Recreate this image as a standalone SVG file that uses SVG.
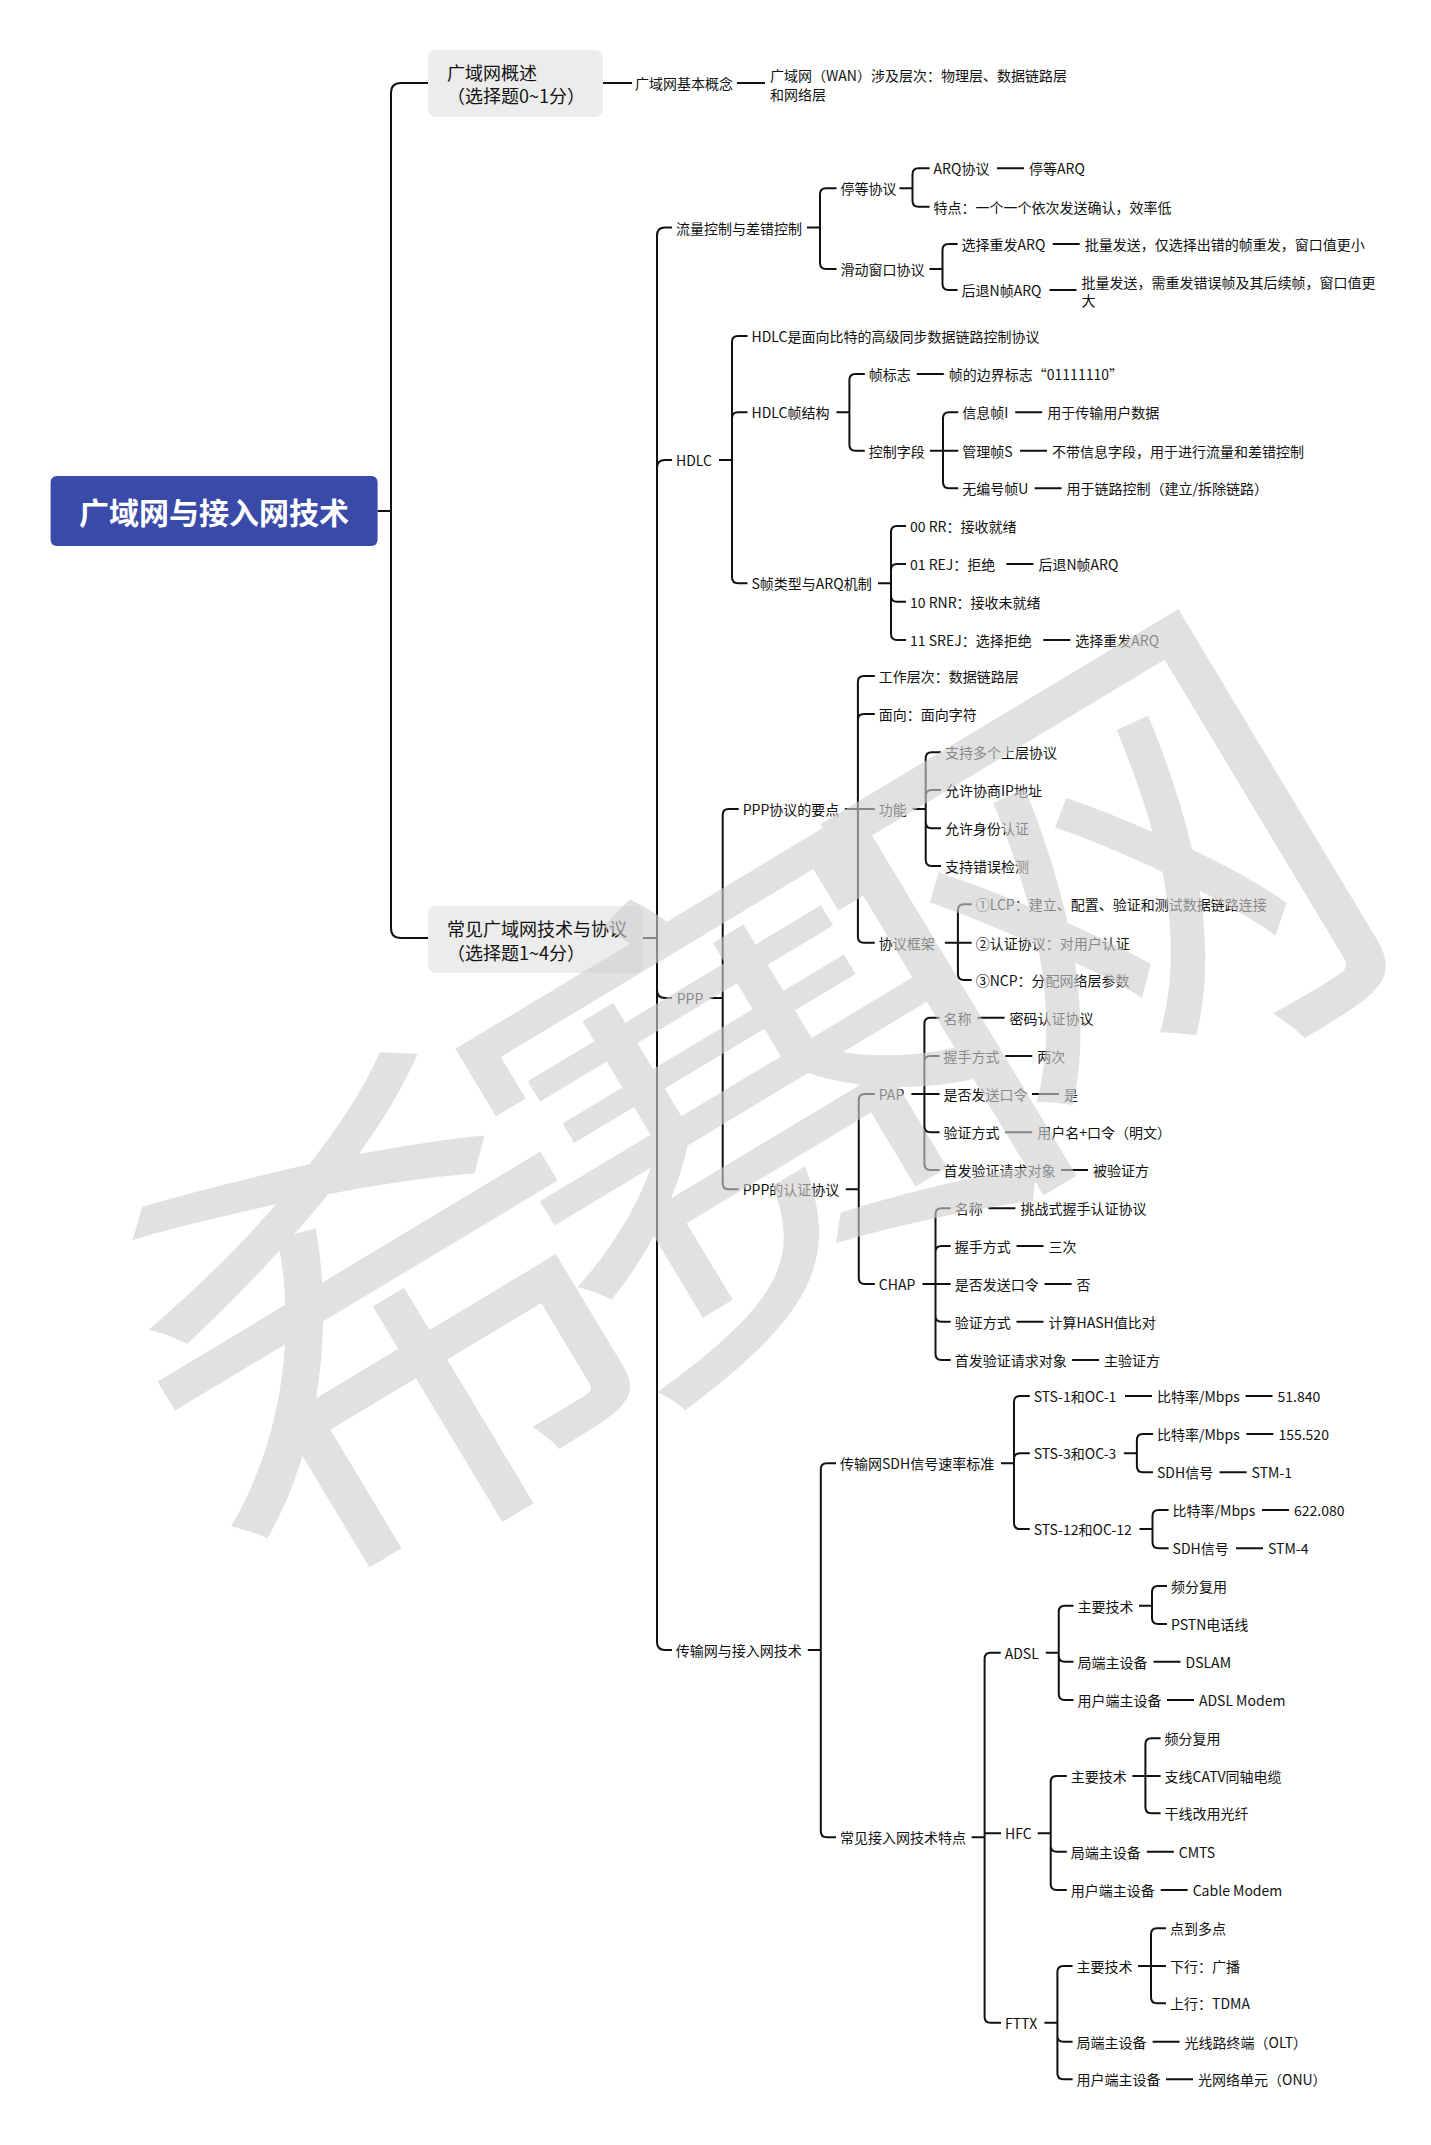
<svg xmlns="http://www.w3.org/2000/svg" width="1431" height="2145" viewBox="0 0 1431 2145">
<style>
.t{font-family:"Noto Sans CJK SC","Noto Sans",sans-serif;font-size:14px;fill:#111;dominant-baseline:central}
.b{font-size:18px}
.r{font-size:30px;font-weight:bold;fill:#fff;text-anchor:middle}
.c{fill:none;stroke:#111;stroke-width:2}
.box{fill:#ececec}
.wm{font-family:"Noto Sans CJK SC",sans-serif;font-size:505px;font-weight:normal;fill:#d0d0d0;opacity:0.62;text-anchor:middle;dominant-baseline:central}
</style>
<rect width="1431" height="2145" fill="#fff"/>
<g id="connectors" class="c">
<path d="M377.6 511H391M391 511V93Q391 83 401 83H428M391 511V928Q391 938 401 938H428"/>
<path d="M603 83H632M737 83H765"/>
<path d="M643 938H657M657 938V235.5Q657 227.5 665 227.5H672M657 938V468Q657 460 665 460H672M657 938V990Q657 998 665 998H672M657 938V1642Q657 1650 665 1650H672"/>
<path d="M807 227.5H820M820 227.5V194.3Q820 188.3 826 188.3H836.5M820 227.5V263Q820 269 826 269H836.5"/>
<path d="M899.5 188.3H912.5M912.5 188.3V174.3Q912.5 168.3 918.5 168.3H929.6M912.5 188.3V200.7Q912.5 206.7 918.5 206.7H929.6M997 168.3H1024"/>
<path d="M929.5 269H942.5M942.5 269V250Q942.5 244 948.5 244H957.6M942.5 269V284Q942.5 290 948.5 290H957.6M1052.7 244H1079.7M1049.5 290H1076.5"/>
<path d="M719 460H732M732 460V342Q732 336 738 336H747.5M732 460V418.3Q732 412.3 738 412.3H747.5M732 460V577.3Q732 583.3 738 583.3H747.5"/>
<path d="M836.4 412.3H849.4M849.4 412.3V380Q849.4 374 855.4 374H864.8M849.4 412.3V444.7Q849.4 450.7 855.4 450.7H864.8M916.8 374H943.8"/>
<path d="M930 450.7H943M943 450.7V418.3Q943 412.3 949 412.3H958.3M943 450.7H958.3M943 450.7V482.3Q943 488.3 949 488.3H958.3M1015.2 412.3H1042.2M1020 450.7H1047M1034.6 488.3H1061.6"/>
<path d="M878 583.3H891M891 583.3V532Q891 526 897 526H906M891 583.3V570Q891 564 897 564H906M891 583.3V595.7Q891 601.7 897 601.7H906M891 583.3V634Q891 640 897 640H906M1006.4 564H1033.4M1043.3 640H1070.3"/>
<path d="M709.7 998H722.7M722.7 998V815Q722.7 809 728.7 809H738.7M722.7 998V1183.3Q722.7 1189.3 728.7 1189.3H738.7"/>
<path d="M844.9 809H857.9M857.9 809V682Q857.9 676 863.9 676H874.8M857.9 809V720Q857.9 714 863.9 714H874.8M857.9 809H874.8M857.9 809V936.7Q857.9 942.7 863.9 942.7H874.8"/>
<path d="M912.7 809H925.7M925.7 809V758.3Q925.7 752.3 931.7 752.3H941M925.7 809V796Q925.7 790 931.7 790H941M925.7 809V822.3Q925.7 828.3 931.7 828.3H941M925.7 809V860Q925.7 866 931.7 866H941"/>
<path d="M944.9 942.7H957.9M957.9 942.7V910.3Q957.9 904.3 963.9 904.3H971.7M957.9 942.7H971.7M957.9 942.7V974Q957.9 980 963.9 980H971.7"/>
<path d="M845.75 1189.3H858.75M858.75 1189.3V1100Q858.75 1094 864.75 1094H874.8M858.75 1189.3V1278Q858.75 1284 864.75 1284H874.8"/>
<path d="M911.4 1094H924.4M924.4 1094V1023.7Q924.4 1017.7 930.4 1017.7H939.6M924.4 1094V1062Q924.4 1056 930.4 1056H939.6M924.4 1094H939.6M924.4 1094V1126.3Q924.4 1132.3 930.4 1132.3H939.6M924.4 1094V1164Q924.4 1170 930.4 1170H939.6"/>
<path d="M977.6 1017.7H1004.6M1005.3 1056H1032.3M1032 1094H1059M1005.3 1132.3H1032.3M1061 1170H1088"/>
<path d="M922.5 1284H935.5M935.5 1284V1214.3Q935.5 1208.3 941.5 1208.3H950.7M935.5 1284V1252Q935.5 1246 941.5 1246H950.7M935.5 1284H950.7M935.5 1284V1315.7Q935.5 1321.7 941.5 1321.7H950.7M935.5 1284V1354Q935.5 1360 941.5 1360H950.7"/>
<path d="M988.4 1208.3H1015.4M1016.5 1246H1043.5M1044.6 1284H1071.6M1016.5 1321.7H1043.5M1072 1360H1099"/>
<path d="M807.8 1650H820.8M820.8 1650V1469.3Q820.8 1463.3 826.8 1463.3H836M820.8 1650V1831.3Q820.8 1837.3 826.8 1837.3H836"/>
<path d="M1001 1463.3H1014M1014 1463.3V1402Q1014 1396 1020 1396H1029.75M1014 1463.3V1459.3Q1014 1453.3 1020 1453.3H1029.75M1014 1463.3V1523Q1014 1529 1020 1529H1029.75"/>
<path d="M1125 1396H1152M1245.5 1396H1272.5"/>
<path d="M1123.9 1453.3H1136.9M1136.9 1453.3V1440Q1136.9 1434 1142.9 1434H1153M1136.9 1453.3V1466.3Q1136.9 1472.3 1142.9 1472.3H1153M1246.4 1434H1273.4M1219.6 1472.3H1246.6"/>
<path d="M1139.5 1529H1152.5M1152.5 1529V1516Q1152.5 1510 1158.5 1510H1168.6M1152.5 1529V1542.3Q1152.5 1548.3 1158.5 1548.3H1168.6M1262 1510H1289M1236 1548.3H1263"/>
<path d="M971.6 1837.3H984.6M984.6 1837.3V1658.7Q984.6 1652.7 990.6 1652.7H1000.7M984.6 1837.3V1833.3H1001M984.6 1837.3V2016.7Q984.6 2022.7 990.6 2022.7H1001"/>
<path d="M1045.75 1652.7H1058.75M1058.75 1652.7V1611.7Q1058.75 1605.7 1064.75 1605.7H1073.5M1058.75 1652.7V1655.7Q1058.75 1661.7 1064.75 1661.7H1073.5M1058.75 1652.7V1694Q1058.75 1700 1064.75 1700H1073.5"/>
<path d="M1139 1605.7H1152M1152 1605.7V1592Q1152 1586 1158 1586H1167M1152 1605.7V1618Q1152 1624 1158 1624H1167M1153.5 1661.7H1180.5M1167 1700H1194"/>
<path d="M1037.7 1833.3H1050.7M1050.7 1833.3V1782Q1050.7 1776 1056.7 1776H1066.8M1050.7 1833.3V1845.7Q1050.7 1851.7 1056.7 1851.7H1066.8M1050.7 1833.3V1884Q1050.7 1890 1056.7 1890H1066.8"/>
<path d="M1132.4 1776H1145.4M1145.4 1776V1744.3Q1145.4 1738.3 1151.4 1738.3H1160.6M1145.4 1776H1160.6M1145.4 1776V1807.3Q1145.4 1813.3 1151.4 1813.3H1160.6M1146.8 1851.7H1173.8M1160.7 1890H1187.7"/>
<path d="M1044.4 2022.7H1057.4M1057.4 2022.7V1972Q1057.4 1966 1063.4 1966H1072.6M1057.4 2022.7V2035.7Q1057.4 2041.7 1063.4 2041.7H1072.6M1057.4 2022.7V2073.3Q1057.4 2079.3 1063.4 2079.3H1072.6"/>
<path d="M1138 1966H1151M1151 1966V1934.3Q1151 1928.3 1157 1928.3H1166M1151 1966H1166M1151 1966V1997.3Q1151 2003.3 1157 2003.3H1166M1152.6 2041.7H1179.6M1166 2079.3H1193"/>
</g>
<g id="root"><rect x="50.6" y="476" width="327" height="70" rx="6" fill="#3a4aa8"/><text class="t r" x="214" y="511">广域网与接入网技术</text></g>
<g id="wan"><rect class="box" x="428" y="50" width="175" height="67" rx="8"/><text class="t b" x="447" y="72">广域网概述</text><text class="t b" x="447" y="95">（选择题0~1分）</text></g>
<g id="common"><rect class="box" x="428" y="906" width="215" height="67" rx="8"/><text class="t b" x="447" y="927.5">常见广域网技术与协议</text><text class="t b" x="447" y="951.5">（选择题1~4分）</text></g>
<g id="n1"><text class="t" x="635" y="83">广域网基本概念</text></g>
<g id="n2"><text class="t" x="770" y="75">广域网（WAN）涉及层次：物理层、数据链路层</text><text class="t" x="770" y="93.5">和网络层</text></g>
<g id="n3"><text class="t" x="676" y="227.5">流量控制与差错控制</text></g>
<g id="n4"><text class="t" x="840.5" y="188.3">停等协议</text></g>
<g id="n5"><text class="t" x="933.6" y="168.3">ARQ协议</text></g>
<g id="n6"><text class="t" x="1029" y="168.3">停等ARQ</text></g>
<g id="n7"><text class="t" x="933.6" y="206.7">特点：一个一个依次发送确认，效率低</text></g>
<g id="n8"><text class="t" x="840.5" y="269">滑动窗口协议</text></g>
<g id="n9"><text class="t" x="961.6" y="244">选择重发ARQ</text></g>
<g id="n10"><text class="t" x="1084.7" y="244">批量发送，仅选择出错的帧重发，窗口值更小</text></g>
<g id="n11"><text class="t" x="961.6" y="290">后退N帧ARQ</text></g>
<g id="n12"><text class="t" x="1081.5" y="281.7">批量发送，需重发错误帧及其后续帧，窗口值更</text><text class="t" x="1081.5" y="300">大</text></g>
<g id="n13"><text class="t" x="676" y="460">HDLC</text></g>
<g id="n14"><text class="t" x="751.5" y="336">HDLC是面向比特的高级同步数据链路控制协议</text></g>
<g id="n15"><text class="t" x="751.5" y="412.3">HDLC帧结构</text></g>
<g id="n16"><text class="t" x="868.8" y="374">帧标志</text></g>
<g id="n17"><text class="t" x="948.8" y="374">帧的边界标志“01111110”</text></g>
<g id="n18"><text class="t" x="868.8" y="450.7">控制字段</text></g>
<g id="n19"><text class="t" x="962.3" y="412.3">信息帧I</text></g>
<g id="n20"><text class="t" x="1047.2" y="412.3">用于传输用户数据</text></g>
<g id="n21"><text class="t" x="962.3" y="450.7">管理帧S</text></g>
<g id="n22"><text class="t" x="1052" y="450.7">不带信息字段，用于进行流量和差错控制</text></g>
<g id="n23"><text class="t" x="962.3" y="488.3">无编号帧U</text></g>
<g id="n24"><text class="t" x="1066.6" y="488.3">用于链路控制（建立/拆除链路）</text></g>
<g id="n25"><text class="t" x="751.5" y="583.3">S帧类型与ARQ机制</text></g>
<g id="n26"><text class="t" x="910" y="526">00 RR：接收就绪</text></g>
<g id="n27"><text class="t" x="910" y="564">01 REJ：拒绝</text></g>
<g id="n28"><text class="t" x="1038.4" y="564">后退N帧ARQ</text></g>
<g id="n29"><text class="t" x="910" y="601.7">10 RNR：接收未就绪</text></g>
<g id="n30"><text class="t" x="910" y="640">11 SREJ：选择拒绝</text></g>
<g id="n31"><text class="t" x="1075.3" y="640">选择重发ARQ</text></g>
<g id="n32"><text class="t" x="676.7" y="998">PPP</text></g>
<g id="n33"><text class="t" x="742.7" y="809">PPP协议的要点</text></g>
<g id="n34"><text class="t" x="878.8" y="676">工作层次：数据链路层</text></g>
<g id="n35"><text class="t" x="878.8" y="714">面向：面向字符</text></g>
<g id="n36"><text class="t" x="878.8" y="809">功能</text></g>
<g id="n37"><text class="t" x="945" y="752.3">支持多个上层协议</text></g>
<g id="n38"><text class="t" x="945" y="790">允许协商IP地址</text></g>
<g id="n39"><text class="t" x="945" y="828.3">允许身份认证</text></g>
<g id="n40"><text class="t" x="945" y="866">支持错误检测</text></g>
<g id="n41"><text class="t" x="878.8" y="942.7">协议框架</text></g>
<g id="n42"><text class="t" x="975.7" y="904.3">①LCP：建立、配置、验证和测试数据链路连接</text></g>
<g id="n43"><text class="t" x="975.7" y="942.7">②认证协议：对用户认证</text></g>
<g id="n44"><text class="t" x="975.7" y="980">③NCP：分配网络层参数</text></g>
<g id="n45"><text class="t" x="742.7" y="1189.3">PPP的认证协议</text></g>
<g id="n46"><text class="t" x="878.8" y="1094">PAP</text></g>
<g id="n47"><text class="t" x="943.6" y="1017.7">名称</text></g>
<g id="n48"><text class="t" x="1009.6" y="1017.7">密码认证协议</text></g>
<g id="n49"><text class="t" x="943.6" y="1056">握手方式</text></g>
<g id="n50"><text class="t" x="1037.3" y="1056">两次</text></g>
<g id="n51"><text class="t" x="943.6" y="1094">是否发送口令</text></g>
<g id="n52"><text class="t" x="1064" y="1094">是</text></g>
<g id="n53"><text class="t" x="943.6" y="1132.3">验证方式</text></g>
<g id="n54"><text class="t" x="1037.3" y="1132.3">用户名+口令（明文）</text></g>
<g id="n55"><text class="t" x="943.6" y="1170">首发验证请求对象</text></g>
<g id="n56"><text class="t" x="1093" y="1170">被验证方</text></g>
<g id="n57"><text class="t" x="878.8" y="1284">CHAP</text></g>
<g id="n58"><text class="t" x="954.7" y="1208.3">名称</text></g>
<g id="n59"><text class="t" x="1020.4" y="1208.3">挑战式握手认证协议</text></g>
<g id="n60"><text class="t" x="954.7" y="1246">握手方式</text></g>
<g id="n61"><text class="t" x="1048.5" y="1246">三次</text></g>
<g id="n62"><text class="t" x="954.7" y="1284">是否发送口令</text></g>
<g id="n63"><text class="t" x="1076.6" y="1284">否</text></g>
<g id="n64"><text class="t" x="954.7" y="1321.7">验证方式</text></g>
<g id="n65"><text class="t" x="1048.5" y="1321.7">计算HASH值比对</text></g>
<g id="n66"><text class="t" x="954.7" y="1360">首发验证请求对象</text></g>
<g id="n67"><text class="t" x="1104" y="1360">主验证方</text></g>
<g id="n68"><text class="t" x="675.7" y="1650">传输网与接入网技术</text></g>
<g id="n69"><text class="t" x="840" y="1463.3">传输网SDH信号速率标准</text></g>
<g id="n70"><text class="t" x="1033.75" y="1396">STS-1和OC-1</text></g>
<g id="n71"><text class="t" x="1157" y="1396">比特率/Mbps</text></g>
<g id="n72"><text class="t" x="1277.5" y="1396">51.840</text></g>
<g id="n73"><text class="t" x="1033.75" y="1453.3">STS-3和OC-3</text></g>
<g id="n74"><text class="t" x="1157" y="1434">比特率/Mbps</text></g>
<g id="n75"><text class="t" x="1278.4" y="1434">155.520</text></g>
<g id="n76"><text class="t" x="1157" y="1472.3">SDH信号</text></g>
<g id="n77"><text class="t" x="1251.6" y="1472.3">STM-1</text></g>
<g id="n78"><text class="t" x="1033.75" y="1529">STS-12和OC-12</text></g>
<g id="n79"><text class="t" x="1172.6" y="1510">比特率/Mbps</text></g>
<g id="n80"><text class="t" x="1294" y="1510">622.080</text></g>
<g id="n81"><text class="t" x="1172.6" y="1548.3">SDH信号</text></g>
<g id="n82"><text class="t" x="1268" y="1548.3">STM-4</text></g>
<g id="n83"><text class="t" x="840" y="1837.3">常见接入网技术特点</text></g>
<g id="n84"><text class="t" x="1004.7" y="1652.7">ADSL</text></g>
<g id="n85"><text class="t" x="1077.5" y="1605.7">主要技术</text></g>
<g id="n86"><text class="t" x="1171" y="1586">频分复用</text></g>
<g id="n87"><text class="t" x="1171" y="1624">PSTN电话线</text></g>
<g id="n88"><text class="t" x="1077.5" y="1661.7">局端主设备</text></g>
<g id="n89"><text class="t" x="1185.5" y="1661.7">DSLAM</text></g>
<g id="n90"><text class="t" x="1077.5" y="1700">用户端主设备</text></g>
<g id="n91"><text class="t" x="1198.9" y="1700">ADSL Modem</text></g>
<g id="n92"><text class="t" x="1005" y="1833.3">HFC</text></g>
<g id="n93"><text class="t" x="1070.8" y="1776">主要技术</text></g>
<g id="n94"><text class="t" x="1164.6" y="1738.3">频分复用</text></g>
<g id="n95"><text class="t" x="1164.6" y="1776">支线CATV同轴电缆</text></g>
<g id="n96"><text class="t" x="1164.6" y="1813.3">干线改用光纤</text></g>
<g id="n97"><text class="t" x="1070.8" y="1851.7">局端主设备</text></g>
<g id="n98"><text class="t" x="1178.8" y="1851.7">CMTS</text></g>
<g id="n99"><text class="t" x="1070.8" y="1890">用户端主设备</text></g>
<g id="n100"><text class="t" x="1192.7" y="1890">Cable Modem</text></g>
<g id="n101"><text class="t" x="1005" y="2022.7">FTTX</text></g>
<g id="n102"><text class="t" x="1076.6" y="1966">主要技术</text></g>
<g id="n103"><text class="t" x="1170" y="1928.3">点到多点</text></g>
<g id="n104"><text class="t" x="1170" y="1966">下行：广播</text></g>
<g id="n105"><text class="t" x="1170" y="2003.3">上行：TDMA</text></g>
<g id="n106"><text class="t" x="1076.6" y="2041.7">局端主设备</text></g>
<g id="n107"><text class="t" x="1184.6" y="2041.7">光线路终端（OLT）</text></g>
<g id="n108"><text class="t" x="1076.6" y="2079.3">用户端主设备</text></g>
<g id="n109"><text class="t" x="1198" y="2079.3">光网络单元（ONU）</text></g>
<g id="watermark"><text class="wm" x="308 728 1148" y="1082" transform="rotate(-31 728 1082)">希赛网</text></g>
</svg>
